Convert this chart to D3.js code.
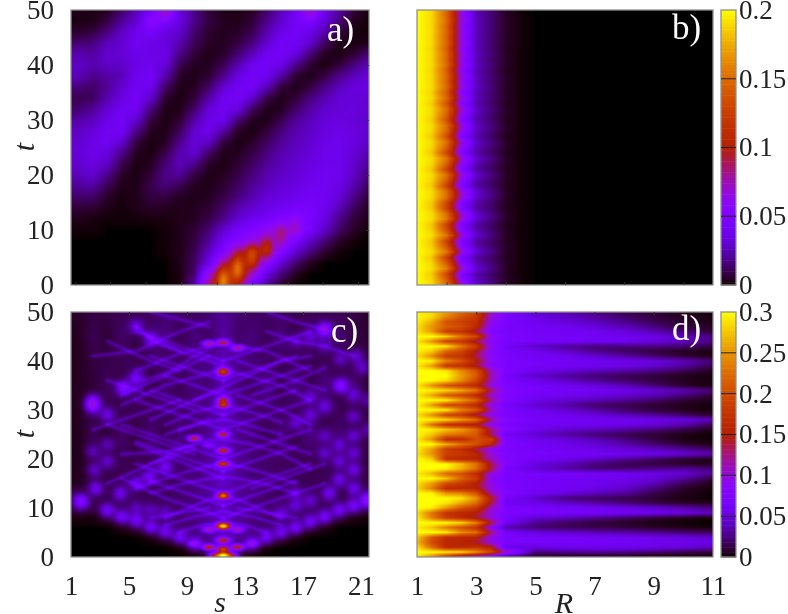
<!DOCTYPE html>
<html><head><meta charset="utf-8">
<script src="https://cdn.jsdelivr.net/npm/d3@7/dist/d3.min.js"></script>
<style>
html,body{margin:0;padding:0;background:#fff;overflow:hidden}
#wrap{position:relative;width:788px;height:614px}
canvas{position:absolute}
svg{position:absolute;left:0;top:0}
text{font-family:"Liberation Serif",serif;fill:#222}
</style></head><body><div id="wrap"></div>
<script>
const sites=[1,2,3,4,5,6,7,8,9,10,11,12,13,14,15,16,17,18,19,20,21];
const tickS=[1,5,9,13,17,21];
const tickR=[1,3,5,7,9,11];
const tickT=[0,10,20,30,40,50];
const tickB=[0,0.05,0.1,0.15,0.2];
const tickD=[0,0.05,0.1,0.15,0.2,0.25,0.3];
const tickLabelB=["0","0.05","0.1","0.15","0.2"];
const tickLabelD=["0","0.05","0.1","0.15","0.2","0.25","0.3"];

const tRowsA=[50,48,46,44,42,40,38,36,34,32,30,28,26,24,22,20,18,16,14,12,10,8,6,4,2,0];
const panelA=[
[3,2,4,12,26,38,58,36,18,7,3,3,4,13,27,40,58,38,22,7,2],
[2,3,8,20,30,44,46,34,18,8,4,3,7,18,30,42,44,32,16,4,1],
[6,8,16,28,38,42,34,30,14,6,4,5,10,24,36,42,36,24,8,2,1],
[14,16,26,30,40,36,34,24,11,5,4,8,16,30,42,40,30,12,3,2,3],
[24,22,30,32,36,36,36,18,7,3,5,14,26,40,42,34,15,4,2,6,14],
[28,24,28,28,36,38,32,10,4,4,10,24,38,42,36,18,6,2,7,16,26],
[26,18,22,26,38,42,24,5,3,6,18,34,42,38,22,6,3,8,18,26,32],
[16,13,20,30,40,38,13,3,4,13,30,40,42,26,7,3,8,18,26,34,34],
[10,12,24,34,42,30,6,2,7,22,38,42,30,9,3,7,16,24,32,32,32],
[14,20,30,40,40,16,3,3,13,32,40,34,12,3,4,13,22,30,32,34,30],
[22,26,36,42,30,8,2,6,22,36,38,15,4,3,10,20,26,32,34,32,30],
[28,32,40,40,18,4,3,11,30,38,22,5,2,7,16,24,28,34,36,34,30],
[30,36,40,30,8,2,4,18,32,28,8,2,5,12,20,26,30,36,38,34,28],
[32,36,34,18,4,2,9,24,30,13,3,4,9,16,24,28,32,38,38,32,24],
[30,34,28,10,2,4,15,26,18,5,2,6,12,20,26,30,34,38,38,30,20],
[26,30,18,5,2,7,18,20,8,3,4,9,16,24,28,32,36,40,38,28,16],
[20,22,10,3,3,10,15,10,4,3,6,12,20,26,32,34,38,40,36,24,11],
[13,13,5,2,3,8,8,4,3,4,9,16,24,32,34,38,42,40,32,18,7],
[7,6,3,1,3,5,4,3,4,6,13,24,30,36,40,44,44,38,26,12,4],
[3,2,1,1,1,2,2,3,4,9,18,30,38,42,50,50,46,34,18,7,3],
[1,1,0,0,0,0,1,3,7,15,30,42,50,58,64,58,44,28,13,5,1],
[0,0,0,0,0,0,1,3,8,20,40,54,62,68,60,44,28,15,5,1,0],
[0,0,0,0,0,0,1,3,10,28,50,85,90,75,50,30,16,6,1,0,0],
[0,0,0,0,0,0,0,3,12,35,80,100,85,55,30,14,4,0,0,0,0],
[0,0,0,0,0,0,0,2,14,65,100,105,70,35,16,4,0,0,0,0,0],
[0,0,0,0,0,0,0,2,22,85,115,90,45,20,5,0,0,0,0,0,0]
];
const ripplesA=[[11,1,50],[12,3,50],[13,5.2,42],[14,6.8,35],[15,9,22],[16,10.7,14]];
const pinkA=[[7,49.5,14],[6,48,10],[17,49.5,14]];

const radiiB=[1,1.5,2,2.5,3,3.5,4,4.5,5,6,11];
const tRowsFine=[50,49,48,47,46,45,44,43,42,41,40,39,38,37,36,35,34,33,32,31,30,29,28,27,26,25,24,23,22,21,20,19,18,17,16,15,14,13,12,11,10,9,8,7,6,5,4,3,2,1,0];
const panelB=[
[200,190,148,68,26,15,5,1,0,0,0],[200,190,146,66,26,15,5,1,0,0,0],[200,190,150,68,27,15,5,1,0,0,0],
[200,189,145,64,26,15,5,1,0,0,0],[200,190,148,68,26,15,5,1,0,0,0],[200,189,145,64,26,14,5,1,0,0,0],
[200,190,148,68,26,15,5,1,0,0,0],[200,188,143,62,25,14,4,1,0,0,0],[200,190,148,68,27,15,5,1,0,0,0],
[200,189,145,64,26,14,5,1,0,0,0],[200,190,150,68,27,15,5,1,0,0,0],[200,188,142,60,25,14,4,1,0,0,0],
[200,190,148,68,27,15,5,1,0,0,0],[200,189,145,64,26,14,5,1,0,0,0],[200,190,150,68,28,16,5,1,0,0,0],
[200,187,140,58,25,14,4,1,0,0,0],[200,190,148,68,27,15,5,1,0,0,0],[200,186,137,57,24,14,4,1,0,0,0],
[200,190,150,70,28,16,5,1,0,0,0],[200,189,145,62,26,14,5,1,0,0,0],[200,186,136,56,24,14,4,1,0,0,0],
[200,190,150,70,28,16,5,1,0,0,0],[200,189,147,64,27,15,5,1,0,0,0],[200,185,134,54,24,13,4,1,0,0,0],
[200,190,152,70,29,16,5,1,0,0,0],[200,188,143,60,26,15,5,1,0,0,0],[200,184,130,52,23,13,4,1,0,0,0],
[200,191,154,72,30,17,5,1,0,0,0],[200,189,145,60,26,14,5,1,0,0,0],[200,184,128,52,22,13,4,1,0,0,0],
[200,190,152,70,30,17,5,1,0,0,0],[200,188,142,58,25,14,5,1,0,0,0],[200,184,127,50,22,13,4,1,0,0,0],
[200,190,150,70,30,17,5,1,0,0,0],[200,190,152,72,30,17,5,1,0,0,0],[200,185,132,52,24,14,4,1,0,0,0],
[200,184,126,50,22,13,4,1,0,0,0],[200,190,150,70,30,17,5,1,0,0,0],[200,191,156,72,31,17,5,1,0,0,0],
[200,184,127,50,22,13,4,1,0,0,0],[200,186,135,54,24,14,4,1,0,0,0],[200,191,154,72,30,17,5,1,0,0,0],
[200,184,126,50,22,13,4,1,0,0,0],[200,186,137,56,25,14,5,1,0,0,0],[200,191,156,72,31,18,5,1,0,0,0],
[200,184,125,48,22,13,4,1,0,0,0],[200,188,142,58,26,15,5,1,0,0,0],[200,191,158,74,31,18,5,1,0,0,0],
[200,185,130,52,24,14,4,1,0,0,0],[200,188,142,58,27,15,5,1,0,0,0],[200,191,154,72,30,17,5,1,0,0,0]
];

const tRowsC=[50,45,40,35,30,25,20,15,12,10,8,6,4,2,0];
const panelC=[
[8,12,14,16,16,18,20,20,18,22,30,22,18,20,18,16,16,16,16,14,8],
[6,16,10,20,12,20,26,16,24,18,34,20,24,16,24,14,24,14,22,12,10],
[6,12,14,16,16,18,18,20,22,28,38,28,22,20,18,18,16,16,16,14,12],
[6,10,18,12,24,14,22,16,24,22,36,22,18,26,14,24,14,26,12,22,10],
[6,14,14,16,16,18,18,20,22,28,42,28,22,20,18,18,18,16,16,14,12],
[5,16,10,20,12,22,14,24,18,30,40,26,24,14,24,14,26,12,22,12,14],
[5,12,14,16,16,18,18,20,22,30,42,30,22,20,18,18,16,16,14,14,12],
[6,12,14,16,16,18,18,20,24,30,42,30,24,20,18,16,16,16,14,14,14],
[20,14,14,16,16,16,18,20,24,30,42,30,24,20,18,16,16,14,14,14,20],
[14,14,16,16,16,18,18,20,24,30,42,30,24,20,18,18,16,16,16,16,14],
[3,3,8,16,16,16,18,20,24,30,42,30,24,20,18,16,16,16,8,3,2],
[0,0,0,3,8,14,16,20,24,30,42,30,24,20,16,14,8,3,0,0,0],
[0,0,0,0,0,2,6,14,22,30,40,30,22,14,6,2,0,0,0,0,0],
[0,0,0,0,0,0,0,1,8,22,36,22,8,1,0,0,0,0,0,0,0],
[0,0,0,0,0,0,0,0,0,8,30,8,0,0,0,0,0,0,0,0,0]
];
const dotsC=[
[1.2,11.3,62],[3,9.5,45],[4,8.2,45],[5,7.4,45],[6,6.1,45],[7,5.1,45],[8,4,45],[9,2.7,40],
[13,2.7,40],[14,4,45],[15,5,45],[16,6,45],[17,7.2,45],[18,8.2,45],[19,9.5,45],[20,10.5,45],[21,11.6,75],
[2.2,14,42],[3.9,13,38],[5,15,38],[5.9,16.4,42],[7,18.4,42],[2.1,17.8,28],[3,19.5,28],[2,21.5,24],[3,23,24],
[5,10,22],[6,9.5,22],[7,9,22],
[15,9,28],[16,10.5,28],[17,11.5,28],[18.3,13,42],[16,13,24],
[18,24.7,28],[18,21.2,28],[19,22.8,28],[19,19.5,32],[19,15.8,38],[20,24.7,32],[20,21.2,32],[20,17.8,38],[20,14,38],
[20,28.6,28],[21,26,20],[21,32,20],[20,33,28],[18,46.4,75],[18,30.7,32],[17,32.8,28],[17,29,28],[16,27.3,28],
[19.1,35,65],[20.2,41,28],[20.6,38.7,28],[18,43.2,24],[19.1,40.4,24],[17,45,24],[16,44,20],
[4.1,34.5,60],[5,36.5,42],[2,31.8,45],[2,30.8,58],[3,29,38],[5,47,38],[6,44.6,38]
];
const hotC=[
[11,0.3,250],[10.4,0.3,110],[11.6,0.3,110],[11,1.6,150],[10,2,130],[12,2,130],[11,3.4,120],[9,2.7,50],[13,2.7,50],
[11,6.3,250],[10,5.6,85],[12,5.6,85],[11,12.5,170],[11,19,120],[11,21.7,120],[11,25,110],[9,24.2,130],
[10,22.8,50],[11,31,110],[11,32,110],[11,37.4,100],[11,38.2,90],[12,42.6,95],[11,43.8,100],[10,43.6,95]
];
const arcsC=[
[[7,8],[9,10.5],[10,11.7],[11,12.2],[12,11.7],[13,10.5],[15,8]],
[[7,6.5],[9,8.2],[11,9.3],[13,8.2],[15,6.5]],
[[8,5],[9.5,6.5],[11,7],[12.5,6.5],[14,5]],
[[5,14],[8,17],[10,18.6],[11,19],[12,18.6],[14,17],[16,15]],
[[6,13],[8,14.8],[10,16],[11,16.3],[12,16],[14,14.8],[16,13]],
[[6,19],[8,22],[10,23.8],[11,24],[13,23],[15,21],[17,18]],
[[4,21],[7,21.5],[9,22.8]],
[[7,27],[9,29.5],[11,31],[13,29.5],[15,27.5]],
[[8,26],[10,27.5],[11,28],[12,27.5],[15,25]],
[[4,31],[7,35],[10,37.5],[11,38],[12,37.5],[15,35],[17,32]],
[[5,38],[8,41.5],[10,43],[11,43.5],[12,43],[14,42],[17,38]],
[[5,23],[8,19.5],[11,16]],
[[3,27],[6,24],[9,21]],
[[6,44],[9,41],[11,39]],
[[9,32],[12,36],[15,40],[17,41]],
[[13,33],[16,36],[18,38.6]],
[[13,14],[16,17],[18,19]],
[[6,8],[8,9],[10,10]],
[[12,10],[14,9],[16,8]],
[[5.5,36],[7,37.5],[8,39],[9,41],[10,42.5]],
[[5,47],[6,44.6],[8,42]],
[[3,44],[6,40],[8,38]],
[[2,41],[5,42],[8,46],[10,48]],
[[6,50],[8,48.5],[10,47]],
[[14,50],[16,48],[18,46.4]],
[[16,44],[18,43],[20,41]],
[[14,46],[16,44]],
[[11,8],[7,12],[4,16]],
[[11,8],[15,12],[18,15]],
[[11,13],[7,17],[5,19]],
[[11,13],[15,17],[17,19]],
[[11,20],[7,24],[4,27]],
[[11,20],[15,24],[17,26]],
[[11,26],[7,30],[5,32]],
[[11,26],[15,30],[17,32]],
[[11,33],[7,37]],
[[11,33],[15,37],[17,39]],
[[11,40],[7,44],[5,46]],
[[11,40],[15,44],[17,46]],
[[11,10.5],[8,13.5],[6,15.5]],
[[11,10.5],[14,13.5],[16,15.5]],
[[11,17.5],[8,20.5],[5,23.5]],
[[11,17.5],[14,20.5],[16,22.5]],
[[11,29],[8,32],[6,34]],
[[11,29],[14,32],[16,34]],
[[11,36],[8,39],[6,41]],
[[11,36],[14,39],[16,41]],
[[4,33],[7,37],[10,41]],
[[6,28],[9,32],[11,34]],
[[7,25],[10,28]],
[[12,40],[15,37],[18,34]],
[[12,33],[15,30],[17,27]],
[[12,26],[15,23],[17,21]],
[[3,36],[6,33],[9,30]],
[[2,26],[5,29],[8,32]],
[[3,15],[6,19],[9,22]]
];

const radiiD=[1,1.5,2,2.5,3,3.5,4,5,6,7,8,9,10,11];
const panelD=[
[295,285,255,225,195,110,72,48,38,26,16,10,5,2],
[300,285,240,205,180,105,72,52,42,32,20,12,6,3],
[295,265,205,190,170,95,70,58,50,40,28,16,8,4],
[290,250,215,200,165,85,68,62,58,50,38,24,12,6],
[290,255,185,175,135,80,66,64,62,58,50,38,22,10],
[300,300,280,230,195,90,70,65,64,62,58,54,40,24],
[295,250,190,180,135,85,68,64,62,60,58,50,40,24],
[300,300,290,235,185,90,64,44,32,24,24,26,22,12],
[295,280,220,195,145,85,66,58,42,28,18,12,6,3],
[290,245,185,175,135,85,66,62,58,46,34,20,10,4],
[300,295,240,205,155,90,70,64,62,58,54,50,38,22],
[295,255,180,170,140,85,70,64,62,58,54,46,32,14],
[300,300,290,245,205,110,72,58,48,40,34,26,16,6],
[300,300,300,255,215,115,66,44,32,22,16,12,6,2],
[300,300,285,245,195,110,70,56,44,30,20,12,6,3],
[295,250,205,185,160,100,72,64,58,50,38,22,8,2],
[300,295,285,260,230,130,78,66,64,60,54,46,36,22],
[295,260,210,195,165,105,75,62,58,54,46,38,24,10],
[300,300,295,255,215,125,75,56,46,38,30,20,10,4],
[300,255,195,190,160,95,66,46,34,20,15,10,5,2],
[300,300,295,240,210,115,70,58,46,34,20,12,6,2],
[290,250,190,180,135,90,70,62,58,48,38,30,18,8],
[300,295,285,255,225,125,78,64,62,60,58,54,50,38],
[295,230,170,160,145,90,72,62,60,58,54,48,36,16],
[300,295,275,255,220,130,80,56,46,40,32,24,14,5],
[300,275,235,225,210,130,62,46,32,22,16,10,4,1],
[295,250,165,165,200,190,72,58,50,38,24,12,4,1],
[300,300,265,230,205,160,75,62,56,48,36,22,10,3],
[295,255,185,170,135,90,70,64,60,54,48,40,30,18],
[290,250,190,180,160,105,75,66,64,62,58,54,46,34],
[300,280,170,160,155,110,75,62,56,44,32,20,10,4],
[300,300,300,270,230,135,78,52,40,24,15,12,8,5],
[300,300,295,265,225,140,70,48,34,24,22,26,30,22],
[295,270,220,205,165,100,70,66,64,62,58,54,46,28],
[300,300,275,220,185,90,68,64,62,60,56,48,32,11],
[290,255,200,180,150,95,70,64,62,58,52,38,16,4],
[285,240,165,160,155,100,72,64,60,54,44,24,8,2],
[300,295,250,240,205,115,76,60,52,40,32,14,5,1],
[300,300,300,290,250,150,66,44,24,18,14,10,3,1],
[300,300,290,260,225,140,60,56,44,34,24,14,8,5],
[300,295,250,210,180,110,70,66,64,60,54,46,36,24],
[290,230,175,160,150,100,72,68,66,64,60,56,50,40],
[295,240,185,165,140,100,68,46,40,28,20,12,5,2],
[300,300,300,285,240,140,62,30,18,12,7,3,1,0],
[295,275,235,205,175,90,36,22,18,15,12,8,4,2],
[300,300,295,245,225,130,64,50,44,38,34,28,22,16],
[280,210,165,160,155,95,70,64,64,60,58,54,50,44],
[270,200,160,155,140,100,70,66,64,64,62,58,56,52],
[290,225,160,160,175,150,55,52,56,58,58,54,50,40],
[300,300,295,285,250,195,110,24,28,30,28,22,16,11],
[290,240,165,110,80,50,20,4,2,1,0,0,0,0]
];

const margin={xa:71,xb:369,xc:417,xd:713,ytop1:10,ybot1:285,ytop2:312,ybot2:557};
const wrap=d3.select("#wrap");
const palette=x=>{const c=Math.max(0,Math.min(1,x));
  return [255*Math.sqrt(c),255*c*c*c,255*Math.max(0,Math.sin(2*Math.PI*c))];};
const paletteCss=x=>{const p=palette(x);return d3.rgb(p[0],p[1],p[2]).formatHex();};

const xS1=d3.scaleLinear([1,21.55],[margin.xa,margin.xb]);
const xR1=d3.scaleLinear([1,11],[margin.xc,margin.xd]);
const yT1=d3.scaleLinear([0,50],[margin.ybot1,margin.ytop1]);
const yT2=d3.scaleLinear([0,50],[margin.ybot2,margin.ytop2]);

function heat(xScale,yScale,xs,ts,rows,maxV,spots,arcs){
  const [x0,x1]=xScale.range(),[y1,y0]=yScale.range();
  const w=x1-x0,h=y1-y0;
  const color=d3.scaleLinear([0,maxV],[0,1]).clamp(true);
  const cv=wrap.append("canvas").attr("width",w).attr("height",h)
    .style("left",x0+"px").style("top",y0+"px").node();
  const ctx=cv.getContext("2d"),img=ctx.createImageData(w,h);
  const tAsc=ts.slice().reverse(),rAsc=rows.slice().reverse();
  const locate=(arr,v)=>{
    if(v<=arr[0])return [0,0];
    if(v>=arr[arr.length-1])return [arr.length-2,1];
    const i=Math.min(arr.length-2,d3.bisectRight(arr,v)-1);
    return [i,(v-arr[i])/(arr[i+1]-arr[i])];
  };
  const field=new Float32Array(w*h);
  for(let py=0;py<h;py++){
    const [j,fy]=locate(tAsc,yScale.invert(y0+py+0.5));
    for(let px=0;px<w;px++){
      const [i,fx]=locate(xs,xScale.invert(x0+px+0.5));
      field[py*w+px]=(rAsc[j][i]*(1-fx)+rAsc[j][i+1]*fx)*(1-fy)+(rAsc[j+1][i]*(1-fx)+rAsc[j+1][i+1]*fx)*fy;
    }
  }
  (spots||[]).forEach(({list,sx,sy})=>list.forEach(([s,t,amp])=>{
    const cx=xScale(s+0.5)-x0,cy=yScale(t)-y0;
    for(let py=Math.max(0,Math.floor(cy-4*sy));py<Math.min(h,cy+4*sy);py++)
      for(let px=Math.max(0,Math.floor(cx-4*sx));px<Math.min(w,cx+4*sx);px++){
        const dx=(px+0.5-cx)/sx,dy=(py+0.5-cy)/sy;
        field[py*w+px]+=amp*Math.exp(-0.5*(dx*dx+dy*dy));
      }
  }));
  (arcs||[]).forEach(({list,amp,sigma})=>list.forEach(line=>{
    const pts=line.map(([s,t])=>[xScale(s+0.5)-x0,yScale(t)-y0]);
    const xa=d3.extent(pts,p=>p[0]),ya=d3.extent(pts,p=>p[1]);
    for(let py=Math.max(0,Math.floor(ya[0]-4*sigma));py<Math.min(h,ya[1]+4*sigma);py++)
      for(let px=Math.max(0,Math.floor(xa[0]-4*sigma));px<Math.min(w,xa[1]+4*sigma);px++){
        let best=1e9;
        for(let k=0;k<pts.length-1;k++){
          const [ax,ay]=pts[k],[bx,by]=pts[k+1];
          const ux=bx-ax,uy=by-ay,L=ux*ux+uy*uy;
          const q=Math.max(0,Math.min(1,((px+0.5-ax)*ux+(py+0.5-ay)*uy)/L));
          const ex=px+0.5-ax-q*ux,ey=py+0.5-ay-q*uy;
          best=Math.min(best,ex*ex+ey*ey);
        }
        field[py*w+px]+=amp*Math.exp(-0.5*best/(sigma*sigma));
      }
  }));
  for(let k=0;k<w*h;k++){
    const c=palette(color(field[k])),q=4*k;
    img.data[q]=c[0];img.data[q+1]=c[1];img.data[q+2]=c[2];img.data[q+3]=255;
  }
  ctx.putImageData(img,0,0);
}
const sitePos=sites.map(s=>s+0.5);
heat(xS1,yT1,sitePos,tRowsA,panelA,200,[{list:ripplesA,sx:4.5,sy:8},{list:pinkA,sx:6,sy:6}]);
heat(xR1,yT1,radiiB,tRowsFine,panelB,200);
heat(xS1,yT2,sitePos,tRowsC,panelC,300,[{list:dotsC,sx:5,sy:5},{list:hotC,sx:4.5,sy:2.2}],[{list:arcsC,amp:17,sigma:1.4}]);
heat(xR1,yT2,radiiD,tRowsFine,panelD,300);

const svg=wrap.append("svg").attr("width",788).attr("height",614);
const FRAME="#8f8f8f",TICK="#333",FS="27px";
function frame(xs,ys,bottomTicks,topTicks,rightTicks){
  const g=svg.append("g");
  const [x0,x1]=xs.range(),[y1,y0]=ys.range();
  g.append("rect").attr("x",x0).attr("y",y0).attr("width",x1-x0).attr("height",y1-y0)
    .attr("fill","none").attr("stroke",FRAME).attr("stroke-width",1.3);
  const axB=g.append("g").attr("transform",`translate(0,${y1})`).call(d3.axisTop(xs).tickValues(bottomTicks).tickSize(3).tickFormat(""));
  const axT=g.append("g").attr("transform",`translate(0,${y0})`).call(d3.axisBottom(xs).tickValues(topTicks).tickSize(3).tickFormat(""));
  const axR=g.append("g").attr("transform",`translate(${x1},0)`).call(d3.axisLeft(ys).tickValues(rightTicks).tickSize(3).tickFormat(""));
  [axB,axT,axR].forEach(a=>{a.select(".domain").remove();a.selectAll("line").attr("stroke",TICK);});
}
const minorS=[1.3,3.7,6.15,8.6,11.05,13.5,15.95,18.35,20.8];
frame(xS1,yT1,minorS,[],[10,20,30,40]);
frame(xR1,yT1,[2,4,6,8,10],[],[]);
frame(xS1,yT2,[],[5,9,13,17],[]);
frame(xR1,yT2,[],[3,5,7,9],[]);

function yAxis(ys){
  const a=svg.append("g").attr("transform",`translate(${margin.xa-17},0)`)
    .call(d3.axisLeft(ys).tickValues(tickT).tickSize(0).tickPadding(0));
  a.select(".domain").remove();
  a.selectAll("text").style("font-size",FS).style("font-family","'Liberation Serif',serif").attr("fill","#222").attr("dy","0.33em");
}
yAxis(yT1);yAxis(yT2);
function xAxis(xs,vals){
  const a=svg.append("g").attr("transform",`translate(0,${margin.ybot2+19})`)
    .call(d3.axisBottom(xs).tickValues(vals).tickSize(0).tickPadding(0));
  a.select(".domain").remove();
  a.selectAll("text").style("font-size",FS).style("font-family","'Liberation Serif',serif").attr("fill","#222").attr("dy","0.71em").attr("y",0);
}
xAxis(xS1,tickS);xAxis(xR1,tickR);

function colorbar(ys,ticks,labels,maxV){
  const barX=[721,736];
  const g=svg.append("g");
  const bands=d3.range(0,maxV,maxV/100);
  g.selectAll("rect.band").data(bands).join("rect").attr("class","band")
    .attr("x",barX[0]).attr("width",barX[1]-barX[0])
    .attr("y",d=>ys(d+maxV/100)).attr("height",d=>ys(d)-ys(d+maxV/100)+0.5)
    .attr("fill",d=>paletteCss((d+maxV/200)/maxV));
  const [y1,y0]=ys.range();
  g.append("rect").attr("x",barX[0]).attr("y",y0).attr("width",barX[1]-barX[0]).attr("height",y1-y0)
    .attr("fill","none").attr("stroke",FRAME).attr("stroke-width",1.3);
  g.selectAll("line.tick").data(ticks.slice(1,-1)).join("line").attr("class","tick")
    .attr("x1",barX[0]).attr("x2",barX[1]).attr("y1",ys).attr("y2",ys).attr("stroke","#222").attr("stroke-width",1);
  g.selectAll("text").data(ticks).join("text").attr("x",barX[1]+3).attr("y",ys).attr("dy","0.33em")
    .style("font-size",FS).text((d,i)=>labels[i]);
}
colorbar(d3.scaleLinear([0,0.2],[margin.ybot1,margin.ytop1]),tickB,tickLabelB,0.2);
colorbar(d3.scaleLinear([0,0.3],[margin.ybot2,margin.ytop2]),tickD,tickLabelD,0.3);

const axisTitles=[
  {t:"s",x:220,y:612,r:0},{t:"R",x:564,y:613,r:0},
  {t:"t",x:34,y:147,r:-90},{t:"t",x:34,y:434,r:-90}];
svg.selectAll("text.title").data(axisTitles).join("text").attr("class","title")
  .attr("text-anchor","middle").style("font-size","30px").style("font-style","italic")
  .attr("transform",d=>`translate(${d.x},${d.y}) rotate(${d.r})`).text(d=>d.t);
const panelTags=[
  {t:"a)",x:327,y:41},{t:"b)",x:672,y:39},{t:"c)",x:331,y:342},{t:"d)",x:672,y:340}];
svg.selectAll("text.tag").data(panelTags).join("text").attr("class","tag")
  .attr("x",d=>d.x).attr("y",d=>d.y).style("font-size","35px").style("fill","#fff").text(d=>d.t);
</script></body></html>
